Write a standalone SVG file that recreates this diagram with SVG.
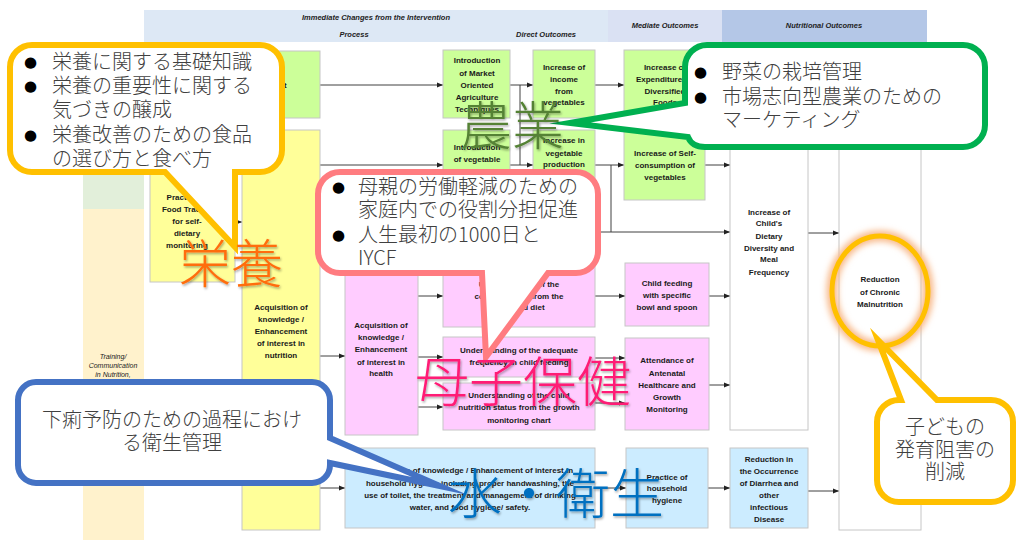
<svg xmlns="http://www.w3.org/2000/svg" width="1017" height="540" viewBox="0 0 1017 540">
<style>
.n{stroke:#c6c6c6;stroke-width:1}
.g{fill:#ccff99}.y{fill:#ffff99}.p{fill:#ffccff}.b{fill:#ccecff}.w{fill:#ffffff}
.t{font-family:"Liberation Sans",Arial,sans-serif;font-size:8px;font-weight:bold;text-anchor:middle;fill:#1a1a1a}
.h{font-family:"Liberation Sans",Arial,sans-serif;font-size:7.5px;font-weight:bold;font-style:italic;text-anchor:middle;fill:#222}
.c{stroke:#404040;stroke-width:1;fill:none}
.ca{stroke:#404040;stroke-width:1;fill:none;marker-end:url(#ar)}
.jp{font-family:"Noto Sans CJK JP",sans-serif;font-size:20px;font-weight:300;fill:#404040}
.bu{font-family:"DejaVu Sans",sans-serif;font-size:15px;fill:#000}
.big{font-family:"Noto Sans CJK JP",sans-serif;font-weight:300;text-anchor:middle}
.co{fill:#fff;stroke-width:6;stroke-linejoin:miter;stroke-miterlimit:10}
</style>
<defs>
<marker id="ar" markerWidth="6" markerHeight="6" refX="6" refY="3" orient="auto" markerUnits="userSpaceOnUse">
<path d="M0,0.5 L6,3 L0,5.5 Z" fill="#222"/>
</marker>
<filter id="sh" x="-10%" y="-10%" width="130%" height="130%">
<feDropShadow dx="1" dy="1.5" stdDeviation="1.2" flood-color="#000" flood-opacity="0.35"/>
</filter>
<filter id="gl" x="-30%" y="-30%" width="160%" height="160%">
<feGaussianBlur stdDeviation="3"/>
</filter>
</defs>

<!-- background bands -->
<g id="bands">
<rect x="144" y="10" width="464" height="32" fill="#dde8f5"/>
<rect x="608" y="10" width="114" height="32" fill="#dae1f3"/>
<rect x="722" y="10" width="205" height="32" fill="#b4c7e7"/>
<text class="h" x="376" y="20">Immediate Changes from the Intervention</text>
<text class="h" x="354" y="37">Process</text>
<text class="h" x="546" y="37">Direct Outcomes</text>
<text class="h" x="665" y="28">Mediate Outcomes</text>
<text class="h" x="824" y="28">Nutritional Outcomes</text>
<rect x="83" y="42" width="61" height="167" fill="#e2efda"/>
<rect x="83" y="209" width="61" height="331" fill="#fff2cc"/>
<text class="h" x="113" y="359" style="font-weight:normal;font-size:7px">Training/</text>
<text class="h" x="113" y="368" style="font-weight:normal;font-size:7px">Communication</text>
<text class="h" x="113" y="377" style="font-weight:normal;font-size:7px">in Nutrition,</text>
</g>

<!-- connectors -->
<g id="connectors">
<path class="ca" d="M320,85 H443"/>
<path class="ca" d="M320,165 H443"/>
<path class="ca" d="M510,85 H533"/>
<path class="c" d="M520,85 V165"/>
<path class="ca" d="M510,165 H533"/>
<path class="ca" d="M595,85 H624"/>
<path class="ca" d="M595,165 H624"/>
<path class="c" d="M611,165 V232"/>
<path class="ca" d="M320,232 H730"/>
<path class="ca" d="M705,85 H730"/>
<path class="ca" d="M705,165 H730"/>
<path class="ca" d="M808,233 H839"/>
<path class="ca" d="M235,222 H242"/>
<path class="ca" d="M320,356 H345"/>
<path class="ca" d="M418,296 H443"/>
<path class="ca" d="M418,357 H443"/>
<path class="ca" d="M418,407 H443"/>
<path class="ca" d="M595,296 H625"/>
<path class="ca" d="M709,296 H730"/>
<path class="ca" d="M595,358 H625"/>
<path class="ca" d="M595,403 H625"/>
<path class="ca" d="M709,385 H730"/>
<path class="ca" d="M320,488 H345"/>
<path class="ca" d="M595,488 H626"/>
<path class="ca" d="M708,488 H730"/>
<path class="ca" d="M808,491 H839"/>
</g>

<!-- nodes -->
<g id="n-topleft"><rect class="n g" x="242" y="51" width="78" height="67"/><text class="t" x="283" y="88">et</text></g>
<g id="n-market"><rect class="n g" x="443" y="50" width="67" height="68"/>
<text class="t" x="477" y="63">Introduction</text><text class="t" x="477" y="76">of Market</text><text class="t" x="477" y="88">Oriented</text><text class="t" x="477" y="100">Agriculture</text><text class="t" x="477" y="112">Techniques</text></g>
<g id="n-vegcult"><rect class="n g" x="443" y="130" width="67" height="70"/>
<text class="t" x="477" y="150">Introduction</text><text class="t" x="477" y="162">of vegetable</text><text class="t" x="477" y="174">cultivation</text></g>
<g id="n-income"><rect class="n g" x="533" y="50" width="62" height="68"/>
<text class="t" x="564" y="70">Increase of</text><text class="t" x="564" y="82">income</text><text class="t" x="564" y="94">from</text><text class="t" x="564" y="105">vegetables</text></g>
<g id="n-prod"><rect class="n g" x="533" y="130" width="62" height="70"/>
<text class="t" x="564" y="143">Increase in</text><text class="t" x="564" y="156">vegetable</text><text class="t" x="564" y="167">production</text></g>
<g id="n-expend"><rect class="n g" x="624" y="50" width="81" height="68"/>
<text class="t" x="665" y="70">Increase of</text><text class="t" x="665" y="82">Expenditure on</text><text class="t" x="665" y="94">Diversified</text><text class="t" x="665" y="105">Foods</text></g>
<g id="n-selfcons"><rect class="n g" x="624" y="130" width="81" height="70"/>
<text class="t" x="665" y="156">Increase of Self-</text><text class="t" x="665" y="168">consumption of</text><text class="t" x="665" y="180">vegetables</text></g>
<g id="n-diversity"><rect class="n w" x="730" y="50" width="78" height="380"/>
<text class="t" x="769" y="215">Increase of</text><text class="t" x="769" y="226">Child's</text><text class="t" x="769" y="239">Dietary</text><text class="t" x="769" y="251">Diversity and</text><text class="t" x="769" y="262">Meal</text><text class="t" x="769" y="275">Frequency</text></g>
<g id="n-chronic"><rect class="n w" x="839" y="50" width="82" height="480"/>
<text class="t" x="880" y="282">Reduction</text><text class="t" x="880" y="295">of Chronic</text><text class="t" x="880" y="307">Malnutrition</text></g>
<g id="n-foodtracker"><rect class="n y" x="150" y="140" width="85" height="142"/>
<text class="t" x="187" y="200">Practice of</text><text class="t" x="187" y="212">Food Tracker</text><text class="t" x="187" y="224">for self-</text><text class="t" x="187" y="236">dietary</text><text class="t" x="187" y="248">monitoring</text></g>
<g id="n-nutrition"><rect class="n y" x="242" y="130" width="78" height="400"/>
<text class="t" x="281" y="310">Acquisition of</text><text class="t" x="281" y="322">knowledge /</text><text class="t" x="281" y="334">Enhancement</text><text class="t" x="281" y="346">of interest in</text><text class="t" x="281" y="358">nutrition</text></g>
<g id="n-health"><rect class="n p" x="345" y="258" width="73" height="177"/>
<text class="t" x="381" y="328">Acquisition of</text><text class="t" x="381" y="340">knowledge /</text><text class="t" x="381" y="352">Enhancement</text><text class="t" x="381" y="365">of interest in</text><text class="t" x="381" y="376">health</text></g>
<g id="n-components"><rect class="n p" x="443" y="262" width="152" height="65"/>
<text class="t" x="519" y="287">Understanding of the</text><text class="t" x="519" y="299">complete food from the</text><text class="t" x="519" y="310">balanced diet</text></g>
<g id="n-frequency"><rect class="n p" x="443" y="337" width="152" height="40"/>
<text class="t" x="519" y="353">Understanding of the adequate</text><text class="t" x="519" y="365">frequency in child feeding</text></g>
<g id="n-growth"><rect class="n p" x="443" y="383" width="152" height="47"/>
<text class="t" x="519" y="398">Understanding of the child</text><text class="t" x="519" y="410">nutrition status from the growth</text><text class="t" x="519" y="423">monitoring chart</text></g>
<g id="n-bowl"><rect class="n p" x="625" y="263" width="84" height="63"/>
<text class="t" x="667" y="286">Child feeding</text><text class="t" x="667" y="298">with specific</text><text class="t" x="667" y="310">bowl and spoon</text></g>
<g id="n-antenatal"><rect class="n p" x="625" y="338" width="84" height="92"/>
<text class="t" x="667" y="363">Attendance of</text><text class="t" x="667" y="376">Antenatal</text><text class="t" x="667" y="388">Healthcare and</text><text class="t" x="667" y="400">Growth</text><text class="t" x="667" y="412">Monitoring</text></g>
<g id="n-hygieneknow"><rect class="n b" x="345" y="448" width="250" height="80"/>
<text class="t" x="470" y="473">Acquisition of knowledge / Enhancement of interest in</text><text class="t" x="470" y="486">household hygiene including proper handwashing, the</text><text class="t" x="470" y="498">use of toilet, the treatment and management of drinking</text><text class="t" x="470" y="510">water, and food hygiene/ safety.</text></g>
<g id="n-hygienepractice"><rect class="n b" x="626" y="448" width="82" height="80"/>
<text class="t" x="667" y="480">Practice of</text><text class="t" x="667" y="491">household</text><text class="t" x="667" y="503">hygiene</text></g>
<g id="n-diarrhea"><rect class="n b" x="730" y="448" width="78" height="80"/>
<text class="t" x="769" y="462">Reduction in</text><text class="t" x="769" y="474">the Occurrence</text><text class="t" x="769" y="486">of Diarrhea and</text><text class="t" x="769" y="498">other</text><text class="t" x="769" y="510">infectious</text><text class="t" x="769" y="522">Disease</text></g>

<!-- highlight ellipse -->
<g id="highlight">
<ellipse cx="880" cy="291" rx="48" ry="55" fill="none" stroke="#f8b98a" stroke-width="11" filter="url(#gl)"/>
<ellipse cx="880" cy="291" rx="48" ry="55" fill="none" stroke="#ffc000" stroke-width="5"/>
</g>

<!-- callouts -->
<g id="callout-nutrition">
<path class="co" stroke="#ffc000" d="M32,45 H260 A22,22 0 0 1 282,67 V150 A22,22 0 0 1 260,172 H235 L235,247 L165,172 H32 A22,22 0 0 1 10,150 V67 A22,22 0 0 1 32,45 Z"/>
<text class="bu" x="24" y="67">●</text><text class="jp" x="52" y="69">栄養に関する基礎知識</text>
<text class="bu" x="24" y="91">●</text><text class="jp" x="52" y="93">栄養の重要性に関する</text>
<text class="jp" x="52" y="117">気づきの醸成</text>
<text class="bu" x="24" y="140">●</text><text class="jp" x="52" y="142">栄養改善のための食品</text>
<text class="jp" x="52" y="166">の選び方と食べ方</text>
</g>
<g id="callout-agri">
<path class="co" stroke="#00b050" d="M707,45 H963 A22,22 0 0 1 985,67 V125 A22,22 0 0 1 963,147 H705 Q692,147 688,137 L570,123 L685,103 V67 A22,22 0 0 1 707,45 Z"/>
<text class="bu" x="694" y="77">●</text><text class="jp" x="722" y="79">野菜の栽培管理</text>
<text class="bu" x="694" y="102">●</text><text class="jp" x="722" y="104">市場志向型農業のための</text>
<text class="jp" x="722" y="127">マーケティング</text>
</g>
<g id="callout-mch">
<path class="co" stroke="#ff7c80" d="M340,172 H576 A22,22 0 0 1 598,194 V251 A22,22 0 0 1 576,273 H548 L486,357 L482,273 H340 A22,22 0 0 1 318,251 V194 A22,22 0 0 1 340,172 Z"/>
<text class="bu" x="332" y="192">●</text><text class="jp" x="358" y="194">母親の労働軽減のための</text>
<text class="jp" x="358" y="217">家庭内での役割分担促進</text>
<text class="bu" x="332" y="240">●</text><text class="jp" x="358" y="242">人生最初の1000日と</text>
<text class="jp" x="358" y="265">IYCF</text>
</g>
<g id="callout-wash">
<path class="co" stroke="#4472c4" d="M36,382 H312 A18,18 0 0 1 330,400 V438 L440,486 L330,463 V465 A18,18 0 0 1 312,483 H36 A18,18 0 0 1 18,465 V400 A18,18 0 0 1 36,382 Z"/>
<text class="jp" x="172" y="427" text-anchor="middle">下痢予防のための過程におけ</text>
<text class="jp" x="172" y="450" text-anchor="middle">る衛生管理</text>
</g>
<g id="callout-stunting">
<path class="co" stroke="#ffc000" d="M899,400 H901 L878,340 L937,400 H991 A22,22 0 0 1 1013,422 V480 A22,22 0 0 1 991,502 H899 A22,22 0 0 1 877,480 V422 A22,22 0 0 1 899,400 Z"/>
<text class="jp" x="945" y="434" text-anchor="middle">子どもの</text>
<text class="jp" x="945" y="457" text-anchor="middle">発育阻害の</text>
<text class="jp" x="945" y="479" text-anchor="middle">削減</text>
</g>

<!-- big labels -->
<g id="labels" filter="url(#sh)">
<text class="big" x="231" y="283" font-size="52" fill="#ff6d10">栄養</text>
<text class="big" x="512" y="145" font-size="52" fill="#548235">農業</text>
<text class="big" x="523" y="402" font-size="54" fill="#ff1a75">母子保健</text>
<text class="big" x="556" y="514" font-size="54" fill="#0070c0">水・衛生</text>
</g>
</svg>
